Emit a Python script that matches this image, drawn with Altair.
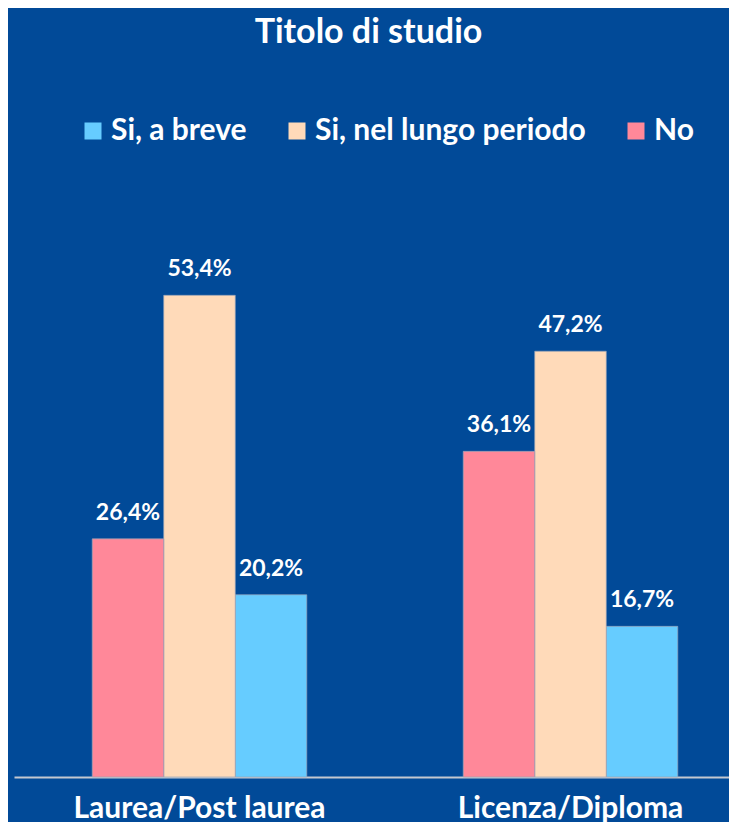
import altair as alt
import pandas as pd

categories = ["Laurea/Post laurea", "Licenza/Diploma"]
series = ["Si, a breve", "Si, nel lungo periodo", "No"]
bar_order = ["No", "Si, nel lungo periodo", "Si, a breve"]
values_breve = [20.2, 16.7]
values_lungo = [53.4, 47.2]
values_no = [26.4, 36.1]
colors = ["#66CCFF", "#FFDAB9", "#FF8899"]

rows = []
for i, c in enumerate(categories):
    rows.append({"cat": c, "serie": "Si, a breve", "val": values_breve[i]})
    rows.append({"cat": c, "serie": "Si, nel lungo periodo", "val": values_lungo[i]})
    rows.append({"cat": c, "serie": "No", "val": values_no[i]})
df = pd.DataFrame(rows)
df["label"] = df["val"].map(lambda v: f"{v:.1f}".replace(".", ",") + "%")

BG = "#014A98"
FONT = "Lato"

x_enc = alt.X("cat:N", sort=categories, title=None,
              scale=alt.Scale(range=[6, 748], paddingInner=0.4218, paddingOuter=0.2109),
              axis=alt.Axis(labelFontSize=30, labelFont=FONT, labelFontWeight="bold",
                            labelColor="white", ticks=False, tickSize=0, labelPadding=40,
                            labelBaseline="alphabetic", labelLimit=400,
                            domainColor="#C4C8D0", domainWidth=2, labelAngle=0))
y_enc = alt.Y("val:Q", axis=None, scale=alt.Scale(domain=[0, 79.71], nice=False, zero=True))
xoff = alt.XOffset("serie:N", sort=bar_order, scale=alt.Scale(paddingInner=0, paddingOuter=0))

base = alt.Chart(df).encode(x=x_enc, y=y_enc, xOffset=xoff)

bars = base.mark_bar(strokeWidth=0.7, stroke="#9AA3B8").encode(
    color=alt.Color("serie:N", scale=alt.Scale(domain=series, range=colors),
                    legend=alt.Legend(title=None, orient="none", legendX=70, legendY=58,
                                      direction="horizontal", columns=3, padding=0,
                                      symbolType="square", symbolSize=289,
                                      symbolStrokeWidth=0, symbolOpacity=1,
                                      labelFontSize=30, labelFont=FONT, labelLimit=500,
                                      labelFontWeight="bold", labelColor="white",
                                      columnPadding=35, labelOffset=3))
)

labels = base.mark_text(dy=-19, baseline="alphabetic", fontSize=23, font=FONT,
                        fontWeight="bold", color="white").encode(text="label:N")

chart = (bars + labels).properties(
    width=721, height=719,
    background=BG,
    autosize=alt.AutoSizeParams(type="none"),
    padding={"top": 50, "bottom": 45, "left": 0, "right": 0},
    title=alt.TitleParams("Titolo di studio", fontSize=34, font=FONT, fontWeight="bold",
                          color="white", anchor="middle", baseline="alphabetic", offset=-19),
).configure_view(stroke=None)

chart.save("out.html", embed_options={"renderer": "svg", "actions": False})
